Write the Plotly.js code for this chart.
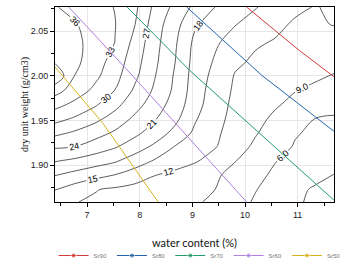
<!DOCTYPE html>
<html><head><meta charset="utf-8">
<script src="https://cdn.plot.ly/plotly-3.0.1.min.js"></script>
<style>html,body{margin:0;padding:0;background:#fff;} #chart{width:351px;height:277px;}</style>
</head><body><div id="chart"></div>
<script>
// grid of water content (%) columns
const waterContent = [6.39, 6.77, 7.15, 7.53, 7.91, 8.29, 8.67, 9.05, 9.43, 9.81, 10.19, 10.57, 10.95, 11.33, 11.69];
// grid of dry unit weight (g/cm3) rows, top to bottom
const dryUnitWeight = [2.077, 2.058, 2.037, 2.016, 2.000, 1.984, 1.968, 1.952, 1.936, 1.921, 1.905, 1.889, 1.873, 1.859];
// contoured quantity (rows match dryUnitWeight)
const zValues = [
  [36.2, 35.0, 34.0, 32.9, 30.6, 26.25, 23.2, 20.3, 18.0, 16.6, 15.2, 13.9, 12.5, 11.9, 12.3],
  [37.3, 36.2, 34.7, 33.1, 30.05, 25.4, 22.1, 18.4, 16.65, 15.15, 13.9, 12.6, 11.7, 11.7, 12.1],
  [38.2, 36.7, 34.9, 32.95, 29.0, 24.96, 21.4, 17.3, 15.4, 13.8, 12.3, 11.8, 11.6, 11.35, 11.1],
  [38.6, 36.7, 34.4, 31.75, 28.2, 24.55, 21.05, 16.95, 14.7, 12.5, 11.6, 11.2, 10.7, 10.25, 9.8],
  [41.5, 35.9, 33.7, 31.0, 27.6, 24.1, 20.65, 16.7, 14.1, 11.83, 11.2, 10.6, 10.0, 9.4, 8.85],
  [37.25, 34.6, 32.35, 29.95, 26.5, 23.5, 20.4, 16.5, 13.6, 11.6, 10.8, 9.95, 9.1, 8.5, 7.9],
  [34.0, 32.25, 30.4, 27.9, 25.1, 22.5, 19.7, 16.2, 13.2, 11.4, 10.35, 9.3, 8.35, 7.5, 6.7],
  [31.0, 29.6, 27.8, 25.75, 23.4, 21.2, 18.75, 15.3, 12.85, 11.2, 9.8, 8.5, 7.2, 5.97, 5.77],
  [27.7, 26.5, 25.1, 23.55, 21.65, 19.6, 17.1, 14.4, 12.5, 10.85, 9.25, 7.7, 6.2, 5.55, 5.06],
  [24.4, 24.0, 22.7, 21.3, 19.5, 17.4, 14.9, 13.55, 12.2, 10.3, 8.5, 7.05, 5.8, 5.05, 4.36],
  [21.2, 20.4, 19.4, 18.35, 16.55, 14.7, 13.5, 12.3, 10.8, 9.1, 7.6, 6.1, 5.25, 4.4, 3.66],
  [18.1, 17.0, 15.95, 14.9, 13.5, 12.05, 11.15, 10.25, 9.4, 8.15, 6.7, 5.55, 4.65, 3.7, 2.95],
  [15.1, 13.6, 12.15, 11.55, 11.0, 10.5, 10.0, 9.5, 9.0, 7.6, 6.15, 4.85, 3.6, 2.7, 2.4],
  [13.2, 12.1, 11.6, 11.15, 10.7, 10.25, 9.75, 9.3, 8.5, 7.1, 5.7, 4.5, 3.3, 2.6, 2.1]
];
// degree-of-saturation lines
const seriesNames = ['Sr90', 'Sr80', 'Sr70', 'Sr60', 'Sr50'];
const sr90W = [10.03, 11.04, 11.69], sr90G = [2.077, 2.028, 1.999];
const sr80W = [8.89, 10.31, 11.69],  sr80G = [2.077, 2.001, 1.938];
const sr70W = [7.76, 8.95, 11.69],   sr70G = [2.077, 2.006, 1.861];
const sr60W = [6.65, 7.85, 10.03],   sr60G = [2.077, 2.001, 1.859];
const sr50W = [6.39, 7.30, 8.35],    sr50G = [2.010, 1.947, 1.859];

const yAsc = dryUnitWeight.slice().reverse();
const zAsc = zValues.slice().reverse();

const contourBase = {
  type: 'contour', x: waterContent, y: yAsc, z: zAsc,
  autocontour: false, showscale: false, showlegend: false, hoverinfo: 'skip',
  line: {color: '#333333', width: 0.8, smoothing: 1}
};
const cHigh = Object.assign({}, contourBase, {
  contours: {coloring: 'none', start: 12, end: 39, size: 3, showlabels: true,
    labelfont: {family: 'Liberation Sans, Arial', size: 9, color: '#000'}}
});
const cLow = Object.assign({}, contourBase, {
  contours: {coloring: 'none', start: 3, end: 9, size: 3, showlabels: true, labelformat: '.1f',
    labelfont: {family: 'Liberation Sans, Arial', size: 9, color: '#000'}}
});

const colors = ['#d23b3b', '#2464ad', '#259c68', '#b07ee0', '#d9b21e'];
const lineData = [[sr90W, sr90G], [sr80W, sr80G], [sr70W, sr70G], [sr60W, sr60G], [sr50W, sr50G]];
const srTraces = lineData.map((d, i) => ({
  type: 'scatter', mode: 'lines+markers', name: seriesNames[i],
  x: d[0].concat([null]), y: d[1].concat([null]),
  line: {color: colors[i], width: 1},
  marker: {color: colors[i], size: [0, 0, 0, 20]},
  hoverinfo: 'skip'
}));

const axisCommon = {
  ticks: 'outside', ticklen: 4, tickwidth: 1, tickcolor: '#000',
  showline: true, linecolor: '#000', linewidth: 1, mirror: true,
  showgrid: true, gridcolor: '#e6e6e6', gridwidth: 1, zeroline: false,
  tickfont: {family: 'Liberation Sans, Arial', size: 9, color: '#222'}
};

const layout = {
  width: 351, height: 277,
  margin: {l: 55, r: 17, t: 7, b: 64},
  paper_bgcolor: '#fff', plot_bgcolor: '#fff',
  font: {family: 'Liberation Sans, Arial', size: 9, color: '#222'},
  xaxis: Object.assign({}, axisCommon, {
    range: [6.39, 11.69], tick0: 7, dtick: 1,
    minor: {tick0: 7, dtick: 0.5, ticks: 'outside', ticklen: 3, tickcolor: '#000', showgrid: false},
    title: {text: 'water content (%)', font: {family: 'Lato, Open Sans', size: 11, color: '#111'}, standoff: 20}
  }),
  yaxis: Object.assign({}, axisCommon, {
    range: [1.859, 2.077], tick0: 1.9, dtick: 0.05, tickformat: '.2f',
    minor: {tick0: 1.9, dtick: 0.025, ticks: 'outside', ticklen: 3, tickcolor: '#000', showgrid: false},
    title: {text: 'dry unit weight (g/cm3)', font: {family: 'Liberation Serif, serif', size: 10, color: '#111'}, standoff: 0}
  }),
  showlegend: true,
  legend: {orientation: 'h', x: -0.005, xanchor: 'left', y: -0.2, yanchor: 'top',
    font: {family: 'Liberation Sans, Arial', size: 6, color: '#777'}, bgcolor: 'rgba(0,0,0,0)'}
};

Plotly.newPlot('chart', [cHigh, cLow].concat(srTraces), layout, {staticPlot: true, displayModeBar: false});
</script>
</body></html>
